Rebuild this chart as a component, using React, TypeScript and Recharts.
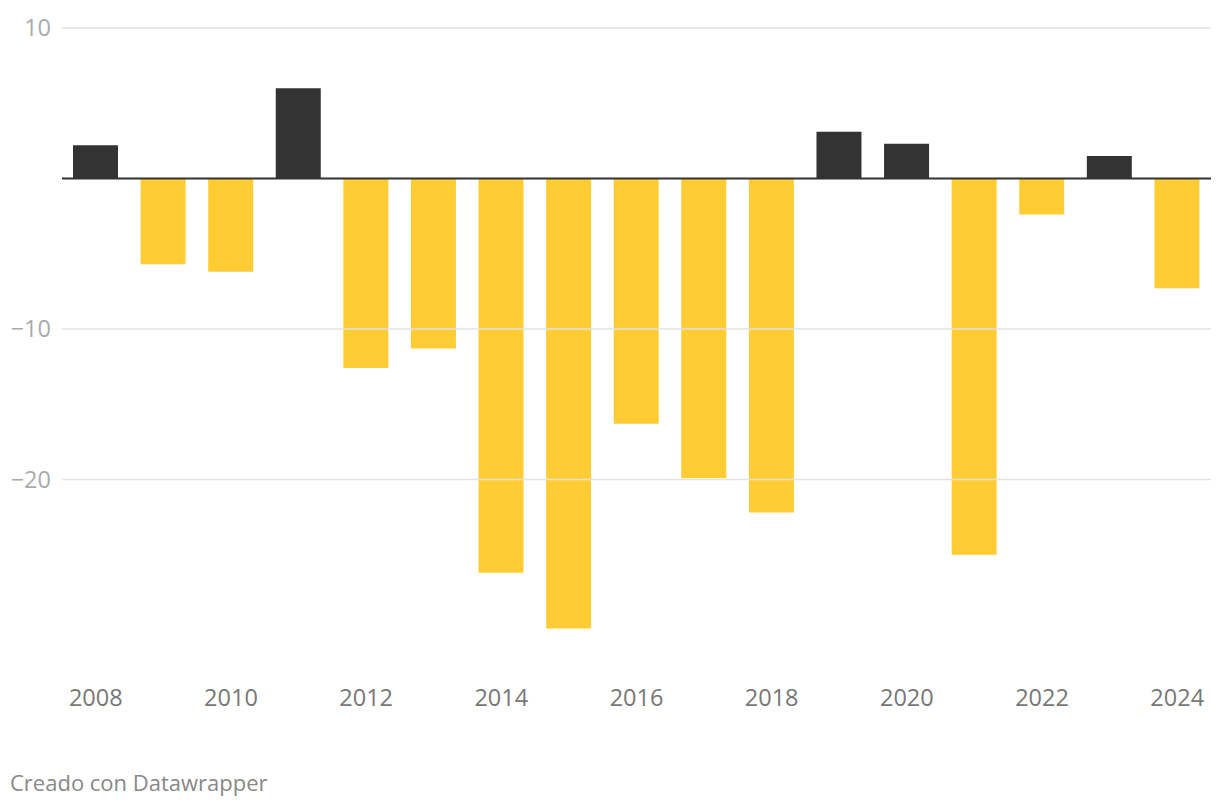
import { BarChart, Bar, Cell, XAxis, YAxis, ReferenceLine } from 'recharts';

const years = ['2008', '2009', '2010', '2011', '2012', '2013', '2014', '2015', '2016', '2017', '2018', '2019', '2020', '2021', '2022', '2023', '2024'];
const values = [2.2, -5.7, -6.2, 6.0, -12.6, -11.3, -26.2, -29.9, -16.3, -19.9, -22.2, 3.1, 2.3, -25.0, -2.4, 1.5, -7.3];
const yTicks = [-20, -10, 10];

const POS = '#333333';
const NEG = '#ffcc33';

const data = years.map((year, i) => ({ year, value: values[i] }));

const fmt = (v: number) => (v < 0 ? `\u2212${Math.abs(v)}` : `${v}`);

export default function App() {
  return (
    <div
      style={{
        position: 'fixed',
        left: 0,
        top: 0,
        width: 1220,
        height: 806,
        background: '#fff',
        fontFamily: '"Open Sans", sans-serif',
      }}
    >
      <BarChart
        width={1220}
        height={720}
        data={data}
        margin={{ top: 28, right: 9, bottom: 0, left: 0 }}
        barSize={45}
      >
        <XAxis
          dataKey="year"
          interval={1}
          axisLine={false}
          tickLine={false}
          tickSize={0}
          tickMargin={29}
          height={60}
          tick={{ fill: '#777', fontSize: 23.5, fontFamily: '"Open Sans", sans-serif' }}
        />
        <YAxis
          domain={[-32, 10]}
          ticks={yTicks}
          width={62}
          axisLine={false}
          tickLine={false}
          tickSize={0}
          tickMargin={11}
          tickFormatter={fmt}
          tick={{ fill: '#aaa', fontSize: 23.5, fontFamily: '"Open Sans", sans-serif' }}
        />
        {yTicks.map((t) => (
          <ReferenceLine key={`g-${t}`} y={t} stroke="#e2e2e2" strokeWidth={1.5} />
        ))}
        <Bar dataKey="value" isAnimationActive={false}>
          {data.map((d, i) => (
            <Cell key={`c-${i}`} fill={d.value >= 0 ? POS : NEG} />
          ))}
        </Bar>
        <ReferenceLine y={0} stroke="#333" strokeWidth={2} />
      </BarChart>
      <div
        style={{
          position: 'absolute',
          left: 10,
          top: 767,
          fontSize: 22,
          color: '#888',
        }}
      >
        Creado con Datawrapper
      </div>
    </div>
  );
}
